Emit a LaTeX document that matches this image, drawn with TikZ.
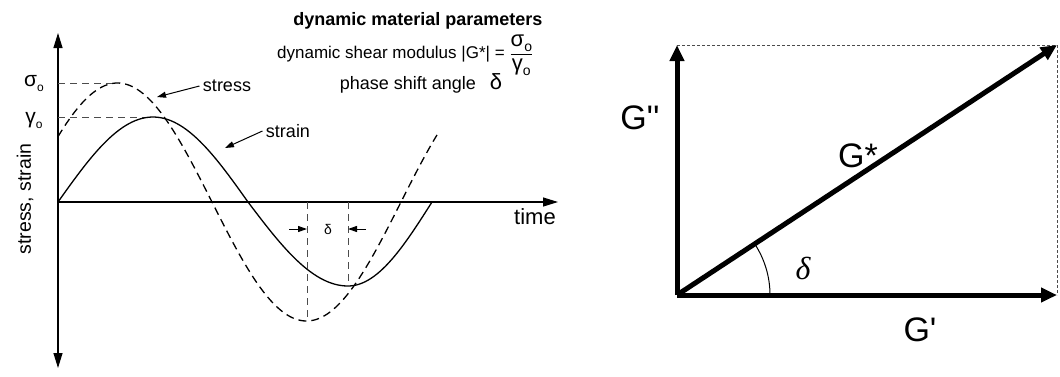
\documentclass[tikz,border=0pt]{standalone}
\usepackage{amsmath}
\usepackage{fontspec}
\setmainfont{Liberation Sans}
\newfontfamily\anglefont{Liberation Serif}
\usetikzlibrary{arrows.meta,positioning,calc}
\newcommand{\subo}{\raisebox{-0.45ex}{\fontsize{12}{12}\selectfont o}}
\newcommand{\fracpart}[1]{\hbox{\fontsize{22}{22}\selectfont #1\raisebox{-0.45ex}{\fontsize{14}{14}\selectfont o}}}
\tikzset{
  axisline/.style={line width=1.2pt, >={Triangle[length=15pt,width=9pt]}},
  straincurve/.style={line width=1.3pt},
  stresscurve/.style={line width=1.3pt, dash pattern=on 8pt off 5pt},
  guideline/.style={line width=0.8pt, dash pattern=on 7pt off 5pt, black!70},
  pointer/.style={-{Triangle[length=9pt,width=6pt]}, line width=1pt},
  vecarrow/.style={-{Triangle[length=16pt,width=14pt]}, line width=5pt},
  boxline/.style={line width=0.8pt, dash pattern=on 3pt off 2pt, black!70},
  plottext/.style={font=\fontsize{18}{20}\selectfont},
  vectext/.style={font=\fontsize{34}{36}\selectfont}
}
\begin{document}
\begin{tikzpicture}[x=1pt, y=-1pt]
  \useasboundingbox (0,0) rectangle (1060,376);

  % stress / strain over time
  \coordinate (origin) at (58,202);
  \coordinate (ytop) at (58,33);
  \coordinate (ybot) at (58,368);
  \coordinate (xend) at (558,202);
  \draw[axisline, <->] (ybot) -- (ytop);
  \draw[axisline, ->] (origin) -- (xend);

  \node[plottext, font=\fontsize{22}{24}\selectfont] (time) at (535,217) {time};
  \node[plottext, font=\fontsize{19.5}{22}\selectfont, rotate=90] (yname) at (25,199) {stress, strain};
  \node[plottext, font=\fontsize{21}{22}\selectfont] (sigma0) at (34,84) {σ\subo};
  \node[plottext, font=\fontsize{21}{22}\selectfont] (gamma0) at (34,121) {γ\subo};

  \coordinate (speak) at (117,83);
  \coordinate (epeak) at (153,117);
  \draw[guideline] (58,83) -- (speak);
  \draw[guideline] (58,117) -- (epeak);

  \draw[stresscurve] plot[domain=58:437, samples=140, variable=\t]
    (\t, {202+119*sin(0.952381*(\t-212))});
  \draw[straincurve]
    plot[domain=0:180, samples=60, variable=\a] ({58+1.055556*\a}, {202-85*sin(\a)})
    -- plot[domain=180:270, samples=30, variable=\a] ({248+1.111111*(\a-180)}, {202-84*sin(\a)})
    -- plot[domain=270:360, samples=30, variable=\a] ({348+0.933333*(\a-270)}, {202-84*sin(\a)});

  \node[plottext] (stress) at (227,86) {stress};
  \node[plottext] (strain) at (288,131) {strain};
  \coordinate (stresshit) at (157,97);
  \coordinate (strainhit) at (225,148);
  \draw[pointer] (stress.west) -- (stresshit);
  \draw[pointer] (strain.west) -- (strainhit);

  % phase shift
  \coordinate (smin) at (307,318);
  \coordinate (emin) at (348,286);
  \draw[guideline] (307,202) -- (smin);
  \draw[guideline] (348,202) -- (emin);
  \node[font=\fontsize{14}{15}\selectfont] (dshift) at (328,229) {δ};
  \coordinate (dleft) at (289,229);
  \coordinate (dright) at (366,229);
  \draw[pointer] (dleft) -- (307,229);
  \draw[pointer] (dright) -- (348,229);

  \node[anchor=east, font=\bfseries\fontsize{18}{20}\selectfont] (title) at (546,21) {dynamic material parameters};
  \node[anchor=west, font=\fontsize{17}{20}\selectfont, inner xsep=0pt] (modulus) at (277,55)
    {dynamic shear modulus |G*| = $\displaystyle\frac{\fracpart{σ}}{\fracpart{γ}}$};
  \node[plottext] (phase) at (421,83) {phase shift angle\hspace{14pt}{\fontsize{22}{22}\selectfont δ}};

  % complex modulus vectors
  \coordinate (O) at (677,295);
  \coordinate (Gpp) at (677,45);
  \coordinate (Gp) at (1057,295);
  \coordinate (Gs) at (1057,45);
  \draw[boxline] (Gpp) -- (Gs) -- (Gp);
  \draw[vecarrow] (O) -- (Gpp);
  \draw[vecarrow] (O) -- (Gp);
  \draw[vecarrow] (O) -- (Gs);
  \draw[line width=1pt] ($(O)+(93,0)$) arc[start angle=0, end angle=-33.3, radius=93];

  \node[vectext] (lGpp) at (640,118) {G\textquotesingle\textquotesingle};
  \node[vectext] (lGs) at (858,156) {G*};
  \node[vectext] (lGp) at (920,330) {G\textquotesingle};
  \node[font=\anglefont\itshape\fontsize{32}{32}\selectfont] (ldelta) at (803,268) {δ};
\end{tikzpicture}
\end{document}
